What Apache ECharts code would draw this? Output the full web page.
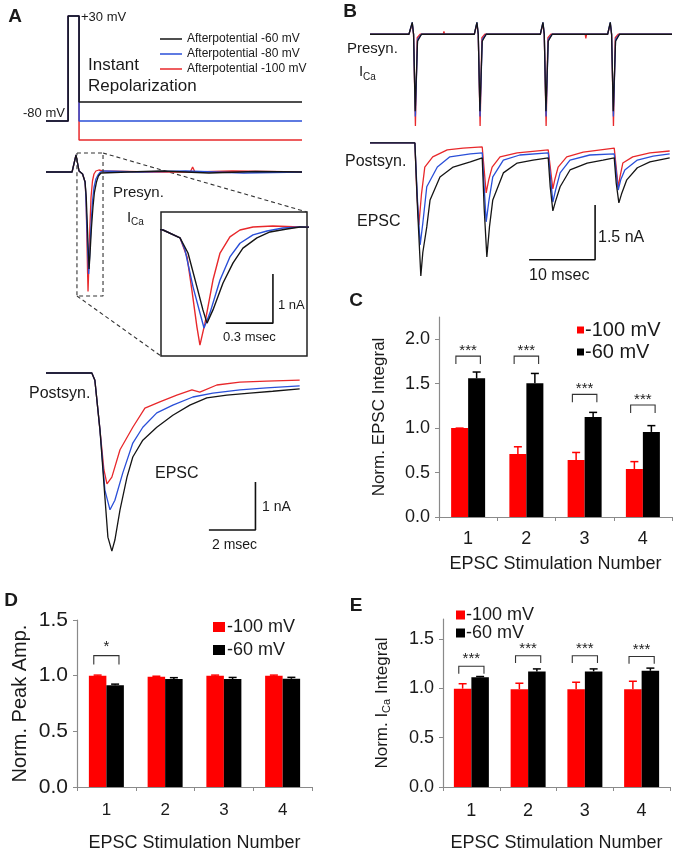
<!DOCTYPE html>
<html><head><meta charset="utf-8">
<script src="https://cdn.jsdelivr.net/npm/echarts@6/dist/echarts.min.js"></script>
<style>html,body{margin:0;padding:0;background:#fff}#c{width:673px;height:853px}</style>
</head><body><div id="c"></div>
<script>
// ---------------- DATA ----------------
// Panel A: command voltage (ms, mV)
const stimTime = [0, 0.95, 0.95, 1.42, 1.42, 11];
const stimBlackMv = [-80, -80, 30, 30, -60, -60];
const stimBlueMv = [-80, -80, 30, 30, -80, -80];
const stimRedMv = [-80, -80, 30, 30, -100, -100];
const afterNames = ['Afterpotential -60 mV', 'Afterpotential -80 mV', 'Afterpotential -100 mV'];

// Panel A: presynaptic ICa [ms, nA]
const presynABlack = [[0,0],[1.12,0],[1.29,0.34],[1.42,0.02],[1.571,-0.04],[1.679,-0.20],[1.730,-0.51],[1.787,-1.20],[1.825,-1.67],[1.851,-1.94],[1.889,-1.67],[1.953,-1.12],[2.017,-0.71],[2.080,-0.41],[2.169,-0.20],[2.252,-0.08],[2.360,-0.02],[2.443,0.02],[3.5,0],[5.0,0.02],[7.0,-0.02],[9.0,0.01],[11,0]];
const presynABlue = [[0,0],[1.12,0],[1.29,0.34],[1.42,0.02],[1.571,-0.04],[1.679,-0.20],[1.711,-0.45],[1.762,-1.20],[1.806,-1.73],[1.832,-2.04],[1.870,-1.73],[1.934,-1.06],[1.997,-0.59],[2.061,-0.31],[2.144,-0.14],[2.233,-0.06],[2.335,0],[2.443,0.02],[4.0,0],[6.0,0.02],[8.5,-0.02],[11,0]];
const presynARed = [[0,0],[1.12,0],[1.29,0.34],[1.42,0.02],[1.571,-0.04],[1.679,-0.20],[1.724,-0.59],[1.755,-1.27],[1.787,-2.02],[1.806,-2.39],[1.838,-1.94],[1.889,-1.06],[1.934,-0.51],[1.997,-0.18],[2.061,-0.04],[2.144,0.02],[2.271,0.04],[2.443,0.02],[4.5,0],[6.2,0],[6.3,0.10],[6.4,0],[8.0,0.02],[11,0]];
const boxTime = [1.33, 2.45];
const boxCurrent = [-2.48, 0.38];
const insetBarTime = [1.971, 2.271];
const insetBarCurrent = [-1.94, -0.94];

// Panel A: postsynaptic EPSC [ms, nA]
const epscABlack = [[0,0],[1.97,0],[2.10,-0.15],[2.32,-1.19],[2.53,-2.58],[2.66,-3.42],[2.83,-3.71],[2.96,-3.48],[3.18,-2.85],[3.48,-2.17],[3.73,-1.75],[4.16,-1.40],[4.76,-1.13],[5.45,-0.88],[6.18,-0.67],[6.91,-0.52],[7.77,-0.46],[8.76,-0.42],[9.74,-0.38],[10.90,-0.33]];
const epscABlue = [[0,0],[1.97,0],[2.10,-0.15],[2.32,-1.19],[2.53,-2.44],[2.75,-2.85],[2.96,-2.65],[3.30,-2.08],[3.73,-1.46],[4.16,-1.13],[4.76,-0.83],[5.45,-0.67],[6.31,-0.50],[7.17,-0.42],[8.33,-0.35],[9.48,-0.31],[10.90,-0.27]];
const epscARed = [[0,0],[1.97,0],[2.10,-0.15],[2.32,-1.19],[2.49,-2.02],[2.62,-2.31],[2.83,-2.17],[3.18,-1.60],[3.73,-1.13],[4.25,-0.73],[4.89,-0.60],[5.62,-0.46],[6.27,-0.35],[6.61,-0.40],[7.34,-0.25],[8.33,-0.19],[9.48,-0.17],[10.90,-0.15]];
const epscABarTime = [7.0, 9.0];
const epscABarCurrent = [-3.27, -2.27];

// Panel B: presynaptic ICa train [ms, nA]
const presynBBlack = [[0,0],[5.9,0],[6.4,0.34],[6.6,0],[6.85,-2.2],[7.2,-0.2],[7.8,0],[15.8,0],[16.2,0.34],[16.4,0],[16.65,-2.2],[17.0,-0.2],[17.6,0],[25.8,0],[26.2,0.34],[26.4,0],[26.65,-2.2],[27.0,-0.2],[27.6,0],[36.0,0],[36.4,0.34],[36.6,0],[36.85,-2.2],[37.2,-0.2],[37.8,0],[45.75,0]];
const presynBBlue = [[0,0],[5.9,0],[6.4,0.34],[6.6,0],[6.87,-2.35],[7.2,-0.15],[7.8,0],[15.8,0],[16.2,0.34],[16.4,0],[16.67,-2.35],[17.0,-0.15],[17.6,0],[25.8,0],[26.2,0.34],[26.4,0],[26.67,-2.35],[27.0,-0.15],[27.6,0],[36.0,0],[36.4,0.34],[36.6,0],[36.87,-2.35],[37.2,-0.15],[37.8,0],[45.75,0]];
const presynBRed = [[0,0],[5.9,0],[6.4,0.3],[6.6,0],[6.88,-2.62],[7.15,-0.1],[7.6,0],[11.1,0],[11.2,0.08],[11.3,0],[15.8,0],[16.2,0.3],[16.4,0],[16.68,-2.62],[16.95,-0.1],[17.4,0],[25.8,0],[26.2,0.3],[26.4,0],[26.68,-2.62],[26.95,-0.1],[27.4,0],[32.6,0],[32.7,-0.12],[32.8,0],[36.0,0],[36.4,0.3],[36.6,0],[36.88,-2.62],[37.15,-0.1],[37.6,0],[45.75,0]];

// Panel B: postsynaptic EPSC train [ms, nA]
const epscBBlack = [[0,0],[6.8,0],[7.2,-1.8],[7.7,-3.64],[8.0,-3.0],[8.6,-2.3],[9.1,-1.56],[10.6,-0.93],[12.6,-0.66],[15.2,-0.52],[17.0,-0.41],[17.3,-1.8],[17.7,-3.12],[18.1,-2.3],[18.6,-1.56],[20.2,-0.82],[22.3,-0.55],[24.7,-0.47],[27.0,-0.41],[27.3,-1.2],[27.7,-1.86],[28.1,-1.6],[28.8,-1.2],[30.3,-0.74],[32.9,-0.55],[35.3,-0.47],[37.0,-0.41],[37.3,-1.1],[37.7,-1.64],[38.1,-1.4],[38.9,-1.01],[40.5,-0.68],[42.4,-0.52],[45.4,-0.41]];
const epscBBlue = [[0,0],[6.8,0],[7.2,-1.6],[7.6,-2.79],[8.0,-2.2],[8.6,-1.2],[10.2,-0.66],[12.1,-0.38],[15.2,-0.30],[17.0,-0.27],[17.6,-2.16],[18.0,-1.6],[18.6,-0.93],[20.2,-0.47],[22.7,-0.33],[27.0,-0.27],[27.7,-1.62],[28.1,-1.3],[28.8,-0.82],[30.3,-0.47],[33.3,-0.33],[37.0,-0.30],[37.6,-1.29],[38.0,-1.0],[38.6,-0.74],[40.5,-0.47],[42.9,-0.36],[45.4,-0.30]];
const epscBRed = [[0,0],[6.8,0],[7.1,-1.4],[7.4,-2.25],[7.8,-1.4],[8.3,-0.66],[9.5,-0.38],[11.7,-0.19],[14.1,-0.14],[17.0,-0.11],[17.6,-1.37],[18.0,-1.0],[18.5,-0.66],[19.7,-0.38],[22.3,-0.27],[27.0,-0.19],[27.7,-1.26],[28.0,-1.0],[28.5,-0.66],[29.8,-0.38],[32.3,-0.25],[37.0,-0.14],[37.6,-1.21],[37.9,-0.9],[38.3,-0.55],[39.8,-0.38],[42.4,-0.27],[45.4,-0.22]];
const epscBBarTime = [24.1, 34.1];
const epscBBarCurrent = [-3.2, -1.7];

// Bar panels
const stimNumbers = ['1', '2', '3', '4'];
const groupNames = ['-100 mV', '-60 mV'];
// C: Norm. EPSC integral
const integRed = [1.0, 0.71, 0.64, 0.54];
const integRedErr = [0.0, 0.08, 0.086, 0.083];
const integBlack = [1.56, 1.505, 1.125, 0.957];
const integBlackErr = [0.071, 0.11, 0.052, 0.071];
const integBracketTop = [1.81, 1.81, 1.38, 1.26];
const integBracketBottom = [1.72, 1.72, 1.29, 1.17];
const integStars = ['***', '***', '***', '***'];
// D: Norm. peak amplitude
const peakRed = [1.0, 0.99, 1.0, 1.0];
const peakRedErr = [0.005, 0.005, 0.005, 0.005];
const peakBlack = [0.914, 0.97, 0.97, 0.972];
const peakBlackErr = [0.01, 0.012, 0.014, 0.013];
const peakBracketTop = [1.18];
const peakBracketBottom = [1.10];
const peakStars = ['*'];
// E: Norm. ICa integral
const icaRed = [0.995, 0.99, 0.99, 0.99];
const icaRedErr = [0.05, 0.06, 0.07, 0.08];
const icaBlack = [1.11, 1.17, 1.17, 1.176];
const icaBlackErr = [0.008, 0.025, 0.025, 0.027];
const icaBracketTop = [1.222, 1.328, 1.328, 1.32];
const icaBracketBottom = [1.146, 1.256, 1.256, 1.248];
const icaStars = ['***', '***', '***', '***'];

// ---------------- STYLE ----------------
const FONT = 'Liberation Sans, Arial, Helvetica, sans-serif';
const C_BLACK = '#151515', C_BLUE = '#2a4fd8', C_RED = '#e8282b';
const BAR_RED = '#ff0000', BAR_BLACK = '#000000';
const AXIS_GRAY = '#8a8a8a';

const chart = echarts.init(document.getElementById('c'), null, { renderer: 'canvas' });

function zip(t, v) { return t.map((x, i) => [x, v[i]]); }
function lineS(name, data, color, gi, width) {
  return { type: 'line', name, data, xAxisIndex: gi, yAxisIndex: gi, symbol: 'none', showSymbol: false,
    lineStyle: { color, width: width || 1.3 }, itemStyle: { color }, silent: true, animation: false, z: 3 };
}
function scaleBar(tArr, cArr, gi) {
  return { type: 'line', data: [[tArr[0], cArr[0]], [tArr[1], cArr[0]], [tArr[1], cArr[1]]], xAxisIndex: gi, yAxisIndex: gi,
    symbol: 'none', lineStyle: { color: '#111', width: 1.6 }, silent: true, animation: false };
}

// grids
const grids = [
  { left: 46, top: 14, width: 256, height: 128 },     // 0 stim A
  { left: 46, top: 147, width: 256, height: 155 },    // 1 presyn A
  { left: 161, top: 212, width: 146, height: 144, show: true, borderColor: '#222', borderWidth: 1.5, backgroundColor: 'rgba(0,0,0,0)' }, // 2 inset
  { left: 46, top: 361, width: 256, height: 204 },    // 3 postsyn A
  { left: 370, top: 15, width: 302, height: 115.5 },  // 4 presyn B
  { left: 370, top: 132, width: 302, height: 157 },   // 5 postsyn B
  { left: 439, top: 317, width: 233, height: 200 },   // 6 C
  { left: 77, top: 620, width: 235, height: 171 },    // 7 D
  { left: 443, top: 619, width: 227, height: 172 }    // 8 E
];
const hidX = (min, max) => ({ type: 'value', min, max, show: false });
const hidY = (min, max) => ({ type: 'value', min, max, show: false });

function catX(gi, fs, margin, nameGap) {
  return { type: 'category', gridIndex: gi, data: stimNumbers, name: 'EPSC Stimulation Number', nameLocation: 'middle', nameGap,
    nameTextStyle: { fontSize: 18, color: '#1a1a1a', fontFamily: FONT },
    axisLine: { show: true, lineStyle: { color: AXIS_GRAY, width: 1.2 } },
    axisTick: { show: true, length: 4, lineStyle: { color: AXIS_GRAY } },
    axisLabel: { fontSize: fs, color: '#1a1a1a', margin, fontFamily: FONT }, splitLine: { show: false } };
}
function valY(gi, max, ticks, name, nameGap, fs, nameFs, rich) {
  return { type: 'value', gridIndex: gi, min: 0, max, name, nameLocation: 'middle', nameGap, nameRotate: 90,
    nameTextStyle: { fontSize: nameFs, color: '#1a1a1a', fontFamily: FONT, rich },
    axisLine: { show: true, lineStyle: { color: AXIS_GRAY, width: 1.2 } },
    axisTick: { show: true, length: 4, inside: false, customValues: ticks, lineStyle: { color: AXIS_GRAY } },
    axisLabel: { fontSize: fs, color: '#1a1a1a', margin: 9, customValues: ticks, formatter: v => v.toFixed(1), fontFamily: FONT },
    splitLine: { show: false } };
}

const xAxes = [hidX(0, 11), hidX(0, 11), hidX(1.558, 2.488), hidX(0, 11), hidX(0, 45.75), hidX(0, 45.75),
  catX(6, 18, 13, 38), catX(7, 17, 15, 47), catX(8, 18, 15, 47)];
xAxes.forEach((a, i) => a.gridIndex = i);
const yAxes = [hidY(-102, 32), hidY(-2.6, 0.5), hidY(-2.61, 0.327), hidY(-4, 0.25), hidY(-2.75, 0.55), hidY(-4, 0.3),
  valY(6, 2.25, [0, 0.5, 1, 1.5, 2], 'Norm. EPSC Integral', 51, 18, 17),
  valY(7, 1.5, [0, 0.5, 1, 1.5], 'Norm. Peak Amp.', 47, 21, 20),
  valY(8, 1.7, [0, 0.5, 1, 1.5], 'Norm. I{s|Ca} Integral', 51, 18, 17, { s: { fontSize: 11, fontFamily: FONT, color: '#1a1a1a', padding: [8, 0, 0, 0] } })];
yAxes.forEach((a, i) => a.gridIndex = i);

function errorBar(color, side, barW) {
  return function (params, api) {
    const i = api.value(0), v = api.value(1), e = api.value(2);
    const p0 = api.coord([i, v]); const p1 = api.coord([i, v + e]);
    const x = p0[0] + side * barW / 2;
    const st = { stroke: color, lineWidth: 1.5, fill: 'none' };
    return { type: 'group', children: [
      { type: 'line', shape: { x1: x, y1: p0[1], x2: x, y2: p1[1] }, style: st },
      { type: 'line', shape: { x1: x - 4, y1: p1[1], x2: x + 4, y2: p1[1] }, style: st }] };
  };
}
function bracket(barW, stars, starGap, fs) {
  return function (params, api) {
    const i = api.value(0), top = api.value(1), bot = api.value(2);
    const pt = api.coord([i, top]); const pb = api.coord([i, bot]);
    const xl = pt[0] - 0.72 * barW, xr = pt[0] + 0.72 * barW;
    return { type: 'group', children: [
      { type: 'polyline', shape: { points: [[xl, pb[1]], [xl, pt[1]], [xr, pt[1]], [xr, pb[1]]] }, style: { stroke: '#333', lineWidth: 1.1, fill: 'none' } },
      { type: 'text', style: { text: stars[params.dataIndex], x: pt[0], y: pt[1] - starGap, align: 'center', verticalAlign: 'middle', fontSize: fs, fill: '#222', fontFamily: FONT } }] };
  };
}
function barSet(gi, red, redErr, black, blackErr, bTop, bBot, stars, barW, starGap) {
  const out = [];
  out.push({ type: 'bar', name: groupNames[0], data: red, xAxisIndex: gi, yAxisIndex: gi, barWidth: barW, barGap: '0%', itemStyle: { color: BAR_RED }, animation: false, silent: true });
  out.push({ type: 'bar', name: groupNames[1], data: black, xAxisIndex: gi, yAxisIndex: gi, barWidth: barW, barGap: '0%', itemStyle: { color: BAR_BLACK }, animation: false, silent: true });
  out.push({ type: 'custom', xAxisIndex: gi, yAxisIndex: gi, data: red.map((v, i) => [i, v, redErr[i]]), renderItem: errorBar(BAR_RED, -1, barW), animation: false, silent: true, z: 4 });
  out.push({ type: 'custom', xAxisIndex: gi, yAxisIndex: gi, data: black.map((v, i) => [i, v, blackErr[i]]), renderItem: errorBar(BAR_BLACK, 1, barW), animation: false, silent: true, z: 4 });
  out.push({ type: 'custom', xAxisIndex: gi, yAxisIndex: gi, data: bTop.map((v, i) => [i, v, bBot[i]]), renderItem: bracket(barW, stars, starGap, 15), animation: false, silent: true, z: 4 });
  return out;
}

const series = [
  lineS(afterNames[2], zip(stimTime, stimRedMv), C_RED, 0, 1.5),
  lineS(afterNames[1], zip(stimTime, stimBlueMv), C_BLUE, 0, 1.5),
  lineS(afterNames[0], zip(stimTime, stimBlackMv), C_BLACK, 0, 1.5),
  lineS('preA-red', presynARed, C_RED, 1), lineS('preA-blue', presynABlue, C_BLUE, 1), lineS('preA-black', presynABlack, C_BLACK, 1),
  { type: 'line', data: [[boxTime[0], boxCurrent[1]], [boxTime[1], boxCurrent[1]], [boxTime[1], boxCurrent[0]], [boxTime[0], boxCurrent[0]], [boxTime[0], boxCurrent[1]]],
    xAxisIndex: 1, yAxisIndex: 1, symbol: 'none', lineStyle: { color: '#333', width: 1.1, type: [4, 3] }, silent: true, animation: false },
  lineS('ins-red', presynARed, C_RED, 2, 1.4), lineS('ins-blue', presynABlue, C_BLUE, 2, 1.4), lineS('ins-black', presynABlack, C_BLACK, 2, 1.4),
  scaleBar(insetBarTime, insetBarCurrent, 2),
  lineS('epA-red', epscARed, C_RED, 3), lineS('epA-blue', epscABlue, C_BLUE, 3), lineS('epA-black', epscABlack, C_BLACK, 3),
  scaleBar(epscABarTime, epscABarCurrent, 3),
  lineS('preB-red', presynBRed, C_RED, 4), lineS('preB-blue', presynBBlue, C_BLUE, 4), lineS('preB-black', presynBBlack, C_BLACK, 4),
  lineS('epB-red', epscBRed, C_RED, 5), lineS('epB-blue', epscBBlue, C_BLUE, 5), lineS('epB-black', epscBBlack, C_BLACK, 5),
  scaleBar(epscBBarTime, epscBBarCurrent, 5),
  ...barSet(6, integRed, integRedErr, integBlack, integBlackErr, integBracketTop, integBracketBottom, integStars, 17, 5),
  ...barSet(7, peakRed, peakRedErr, peakBlack, peakBlackErr, peakBracketTop, peakBracketBottom, peakStars, 17.5, 9),
  ...barSet(8, icaRed, icaRedErr, icaBlack, icaBlackErr, icaBracketTop, icaBracketBottom, icaStars, 17.5, 7)
];

const legends = [
  { data: afterNames.slice(), orient: 'vertical', left: 160, top: 33, padding: 0, icon: 'rect', itemWidth: 22, itemHeight: 1.5, itemGap: 3,
    selectedMode: false, textStyle: { fontSize: 12, color: '#1a1a1a', fontFamily: FONT } },
  { data: groupNames.slice(), orient: 'vertical', left: 577, top: 320, padding: 0, icon: 'rect', itemWidth: 7, itemHeight: 7, itemGap: 2,
    selectedMode: false, textStyle: { fontSize: 20, color: '#1a1a1a', fontFamily: FONT, padding: [0, 0, 0, -4] } },
  { data: groupNames.slice(), orient: 'vertical', left: 213, top: 618, padding: 0, icon: 'rect', itemWidth: 12, itemHeight: 10, itemGap: 5,
    selectedMode: false, textStyle: { fontSize: 18, color: '#1a1a1a', fontFamily: FONT, padding: [0, 0, 0, -3] } },
  { data: groupNames.slice(), orient: 'vertical', left: 456, top: 606, padding: 0, icon: 'rect', itemWidth: 9, itemHeight: 9, itemGap: 0,
    selectedMode: false, textStyle: { fontSize: 18, color: '#1a1a1a', fontFamily: FONT, padding: [0, 0, 0, -4] } }
];

function T(id, text, x, y, fs, opts) {
  opts = opts || {};
  return { type: 'text', id, x, y, silent: true, z: 10,
    style: { text, fontSize: fs, fontFamily: FONT, fill: '#1a1a1a', align: opts.align || 'left', verticalAlign: 'middle', fontWeight: opts.bold ? 'bold' : 'normal' } };
}
const texts = [
  T('lA', 'A', 15, 17, 19, { align: 'center', bold: true }),
  T('lB', 'B', 350, 12, 19, { align: 'center', bold: true }),
  T('lC', 'C', 356, 301, 19, { align: 'center', bold: true }),
  T('lD', 'D', 11, 601, 19, { align: 'center', bold: true }),
  T('lE', 'E', 356, 606, 19, { align: 'center', bold: true }),
  T('t30', '+30 mV', 81, 17, 13), T('t80', '-80 mV', 23, 113, 13),
  T('tInst', 'Instant', 88, 65, 17), T('tRep', 'Repolarization', 88, 86, 17),
  T('tPreA', 'Presyn.', 113, 193, 15), T('tIA', 'I', 127, 218, 15), T('tCaA', 'Ca', 131, 222, 10),
  T('tIns1', '1 nA', 278, 305, 13), T('tIns2', '0.3 msec', 223, 337, 13),
  T('tPostA', 'Postsyn.', 29, 394, 16), T('tEpA', 'EPSC', 155, 474, 16),
  T('tA1', '1 nA', 262, 507, 14), T('tA2', '2 msec', 212, 545, 14),
  T('tPreB', 'Presyn.', 347, 49, 15), T('tIB', 'I', 359, 72, 15), T('tCaB', 'Ca', 363, 77, 10),
  T('tPostB', 'Postsyn.', 345, 162, 16), T('tEpB', 'EPSC', 357, 222, 16),
  T('tB1', '1.5 nA', 598, 238, 16), T('tB2', '10 msec', 529, 276, 16)
];

chart.setOption({
  backgroundColor: '#ffffff', animation: false,
  textStyle: { fontFamily: FONT },
  grid: grids, xAxis: xAxes, yAxis: yAxes, legend: legends, series, graphic: texts
});

// dashed connectors from the zoom box to the inset (computed via the axes)
const boxTR = chart.convertToPixel({ gridIndex: 1 }, [boxTime[1], boxCurrent[1]]);
const boxBL = chart.convertToPixel({ gridIndex: 1 }, [boxTime[0], boxCurrent[0]]);
const insTR = chart.convertToPixel({ gridIndex: 2 }, [xAxes[2].max, yAxes[2].max]);
const insBL = chart.convertToPixel({ gridIndex: 2 }, [xAxes[2].min, yAxes[2].min]);
const dash = { stroke: '#333', lineWidth: 1.1, lineDash: [4, 3] };
chart.setOption({ graphic: [
  { type: 'line', id: 'conn1', silent: true, shape: { x1: boxTR[0], y1: boxTR[1], x2: insTR[0], y2: insTR[1] }, style: dash },
  { type: 'line', id: 'conn2', silent: true, shape: { x1: boxBL[0], y1: boxBL[1], x2: insBL[0], y2: insBL[1] }, style: dash }
] });
</script></body></html>
